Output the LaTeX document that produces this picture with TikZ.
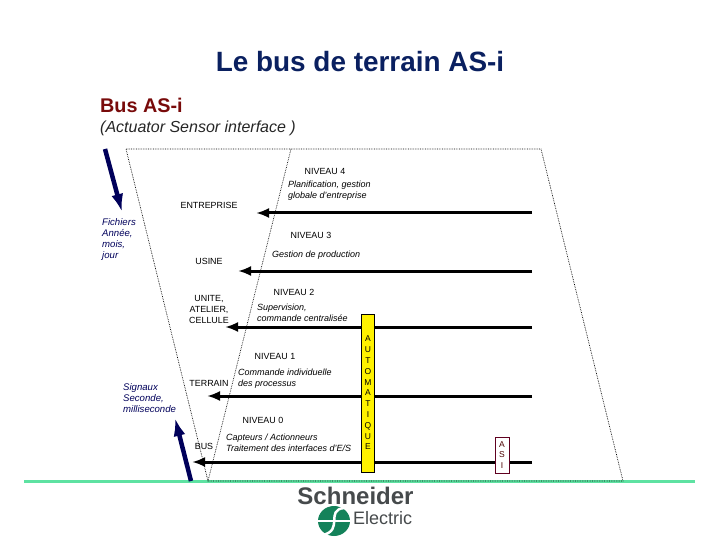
\documentclass[tikz,border=0pt]{standalone}
\usepackage{fontspec}
\setmainfont{Liberation Sans}
\usetikzlibrary{
    arrows.meta,
    positioning
}
\definecolor{titleblue}{RGB}{10,32,96}
\definecolor{sidenavy}{RGB}{0,0,90}
\definecolor{busred}{RGB}{120,10,10}
\definecolor{busgreen}{RGB}{94,226,162}
\definecolor{logogray}{RGB}{70,74,76}
\definecolor{logogreen}{RGB}{20,130,90}
\tikzset{
    level/.style={line width=3pt, -{Latex[length=13pt,width=10pt]}},
    pointer/.style={sidenavy, line width=4.5pt, -{Latex[length=18pt,width=12pt]}},
    edge/.style={densely dotted, line width=0.7pt},
    caption/.style={font=\fontsize{9}{11.3}\selectfont\itshape, align=left, anchor=west, inner sep=0pt},
    tier/.style={font=\fontsize{8.9}{11}\selectfont, align=center, inner sep=0pt},
    side/.style={font=\fontsize{9.6}{11}\selectfont\itshape, align=left, anchor=west, text=sidenavy, inner sep=0pt}
}
\begin{document}
\begin{tikzpicture}[x=1pt,y=-1pt]
    \useasboundingbox (0,0) rectangle (720,540);
    % Titles
    \node[text=titleblue, font=\fontsize{27.9}{27.9}\selectfont\bfseries, inner sep=0pt] (title) at (360,62) {Le bus de terrain AS-i};
    \node[text=busred, font=\fontsize{19.8}{19.8}\selectfont\bfseries, anchor=west, inner sep=0pt] (bus) at (100,105) {Bus AS-i};
    \node[text=black!85, font=\fontsize{16}{16}\selectfont\itshape, anchor=west, inner sep=0pt] (actuator) at (100,128) {(Actuator Sensor interface )};

    % Green ground line
    \draw[busgreen, line width=3pt] (24,481.5) -- (695,481.5);

    % Trapezoid and funnel
    \draw[edge] (126,149) -- (541,149) -- (623,481) -- (208,481) -- cycle;
    \draw[edge] (291,149) -- (208,481);

    % Level lines
    \foreach \ypos/\xtip in {213/256, 271/238, 327/225, 396/207, 462/192} {
        \draw[level] (532,\ypos) -- (\xtip,\ypos);
    }

    % Time scale arrows
    \draw[pointer] (105,149) -- (122,212);
    \draw[pointer] (191,481) -- (175,418);

    % Left captions
    \node[side] (fichiers) at (102,239.5) {Fichiers\\Année,\\mois,\\jour};
    \node[side] (signaux) at (123,398) {Signaux\\Seconde,\\milliseconde};

    % Tiers
    \node[tier] (entreprise) at (209,205) {ENTREPRISE};
    \node[tier] (usine) at (209,261) {USINE};
    \node[tier] (unite) at (209,309) {UNITE,\\ATELIER,\\CELLULE};
    \node[tier] (terrain) at (209,383) {TERRAIN};
    \node[tier] (tbus) at (204,446) {BUS};

    % Levels
    \node[tier] (n4) at (325,171) {NIVEAU 4};
    \node[tier] (n3) at (311,235) {NIVEAU 3};
    \node[tier] (n2) at (294,292) {NIVEAU 2};
    \node[tier] (n1) at (275,356) {NIVEAU 1};
    \node[tier] (n0) at (263,420) {NIVEAU 0};

    \node[caption] (c4) at (288,190.5) {Planification, gestion\\globale d'entreprise};
    \node[caption] (c3) at (272,255) {Gestion de production};
    \node[caption] (c2) at (257,312.5) {Supervision,\\commande centralisée};
    \node[caption] (c1) at (238,378.5) {Commande individuelle\\des processus};
    \node[caption] (c0) at (226,442.5) {Capteurs / Actionneurs\\Traitement des interfaces d'E/S};

    % Side boxes
    \node[draw=black, fill=yellow, minimum width=13pt, minimum height=158pt, inner sep=0pt,
        font=\fontsize{8.5}{10.8}\selectfont, align=center] (automatique) at (368,393)
        {A\\U\\T\\O\\M\\A\\T\\I\\Q\\U\\E};
    \node[draw=black!50!purple, fill=white, minimum width=14pt, minimum height=36pt, inner sep=0pt,
        font=\fontsize{8.5}{10.8}\selectfont, align=center, text=black!70!red] (asi) at (502,455) {A\\S\\I};

    % Logo
    \fill[logogreen] (334,521) circle (16pt and 15pt);
    \draw[white, line width=2.5pt] (344,508) .. controls (325,510) and (344,530) .. (323,535);
    \draw[white, line width=1.5pt] (317,521) -- (351,521);
    \node[text=logogray, font=\fontsize{24}{24}\selectfont\bfseries, inner sep=0pt] (schneider) at (355.5,496) {Schneider};
    \node[text=logogray, font=\fontsize{18}{18}\selectfont, anchor=west, inner sep=0pt] (electric) at (353,518) {Electric};
\end{tikzpicture}
\end{document}
